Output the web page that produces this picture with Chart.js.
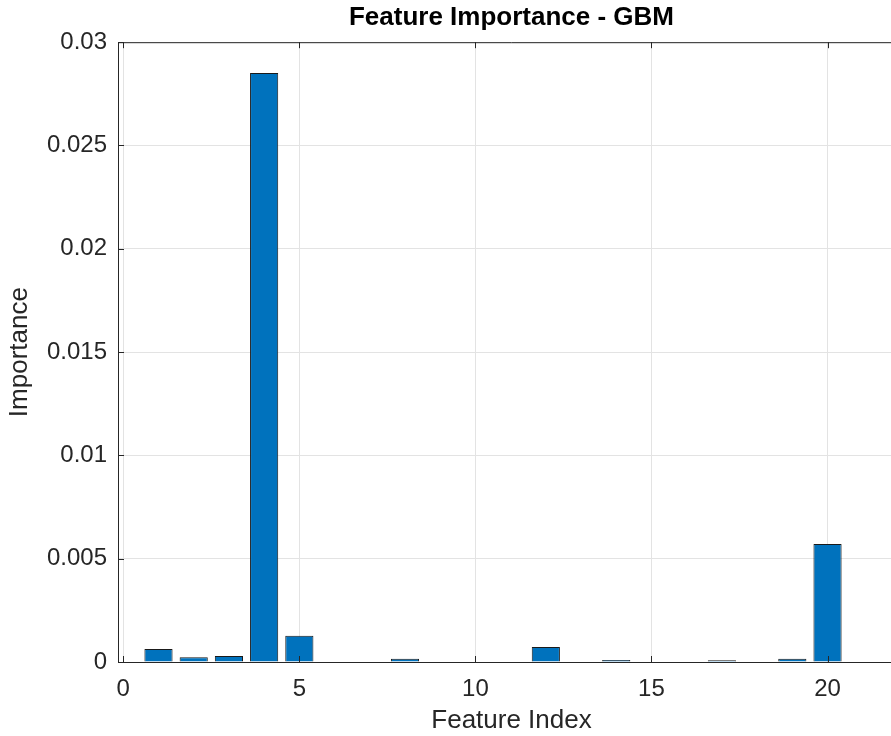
<!DOCTYPE html>
<html>
<head>
<meta charset="utf-8">
<script src="https://cdn.jsdelivr.net/npm/chart.js@4"></script>
<style>
  html, body { margin: 0; padding: 0; background: #fff; overflow: hidden; }
  #chart { display: block; }
</style>
</head>
<body>
<canvas id="chart" width="905" height="736"></canvas>
<script>
// feature index and importance
const featureIndex = [1, 2, 3, 4, 5, 6, 7, 8, 9, 10, 11, 12, 13, 14, 15, 16, 17, 18, 19, 20];
const importance = [0.00063, 0.00023, 0.00029, 0.02851, 0.00127, 0, 0, 0.00016, 0, 0, 0, 0.00073, 0, 0.0001, 0, 0, 0.00008, 0, 0.00016, 0.00571];

const xTickValues = [0, 5, 10, 15, 20];
const yTickValues = [0, 0.005, 0.01, 0.015, 0.02, 0.025, 0.03];
const yTickLabels = ["0", "0.005", "0.01", "0.015", "0.02", "0.025", "0.03"];

const axisColor = "#262626";

// top edge of the axes box and inward tick marks, like the matlab figure
// (the right edge falls outside the picture)
const boxPlugin = {
    id: "box",
    afterDraw(chart) {
        const { ctx, chartArea: a, scales } = chart;
        ctx.save();
        ctx.strokeStyle = axisColor;
        ctx.lineWidth = 1;
        ctx.beginPath();
        ctx.moveTo(a.left, a.top + 0.5);
        ctx.lineTo(a.right, a.top + 0.5);
        xTickValues.forEach(v => {
            const x = Math.round(scales.x.getPixelForValue(v)) + 0.5;
            ctx.moveTo(x, a.bottom);
            ctx.lineTo(x, a.bottom - 6);
            ctx.moveTo(x, a.top);
            ctx.lineTo(x, a.top + 6);
        });
        yTickValues.forEach(v => {
            const y = Math.round(scales.y.getPixelForValue(v)) + 0.5;
            ctx.moveTo(a.left, y);
            ctx.lineTo(a.left + 6, y);
        });
        ctx.stroke();
        ctx.restore();
    }
};

new Chart(document.getElementById("chart"), {
    type: "bar",
    data: {
        datasets: [{
            data: featureIndex.map((x, i) => ({ x: x, y: importance[i] })),
            backgroundColor: "#0072BD",
            borderColor: "#1a1a1a",
            borderWidth: 1,
            barPercentage: 0.8,
            categoryPercentage: 1
        }]
    },
    options: {
        responsive: false,
        animation: false,
        layout: { padding: 0 },
        plugins: {
            legend: { display: false },
            tooltip: { enabled: false },
            title: {
                display: true,
                text: "Feature Importance - GBM",
                fullSize: false,
                color: "#000",
                font: { family: "Liberation Sans", size: 26, weight: "bold" },
                padding: { top: 2, bottom: 9 }
            }
        },
        scales: {
            x: {
                type: "linear",
                min: -0.15,
                max: 22.2,
                offset: false,
                afterBuildTicks: s => { s.ticks = xTickValues.map(v => ({ value: v })); },
                afterFit: s => { s.height = 74; },
                grid: { color: "#e3e3e3", drawTicks: false, offset: false },
                border: { color: axisColor },
                ticks: {
                    color: axisColor,
                    padding: 13,
                    maxRotation: 0,
                    font: { family: "Liberation Sans", size: 24 }
                },
                title: {
                    display: true,
                    text: "Feature Index",
                    color: axisColor,
                    padding: 0,
                    font: { family: "Liberation Sans", size: 26 }
                }
            },
            y: {
                min: 0,
                max: 0.03,
                afterBuildTicks: s => { s.ticks = yTickValues.map(v => ({ value: v })); },
                afterFit: s => { s.width = 118; },
                grid: { color: "#e3e3e3", drawTicks: false },
                border: { color: axisColor },
                ticks: {
                    color: axisColor,
                    padding: 11,
                    font: { family: "Liberation Sans", size: 24 },
                    callback: (v, i) => yTickLabels[i]
                },
                title: {
                    display: true,
                    text: "Importance",
                    color: axisColor,
                    padding: { top: 4, bottom: 0 },
                    font: { family: "Liberation Sans", size: 26 }
                }
            }
        }
    },
    plugins: [boxPlugin]
});
</script>
</body>
</html>
